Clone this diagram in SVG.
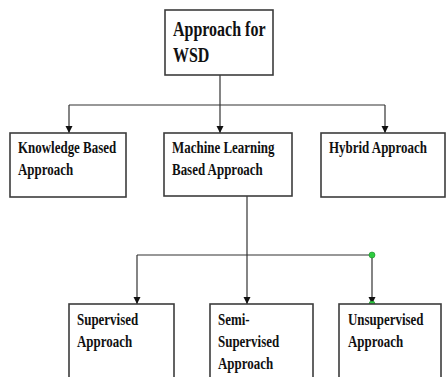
<svg xmlns="http://www.w3.org/2000/svg" width="448" height="377" viewBox="0 0 448 377">
<style>
.box{fill:#fff;stroke:#3c3c3c;stroke-width:1.6}
.t{font-family:"Liberation Serif","Times New Roman",serif;font-weight:bold;font-size:16.5px;fill:#111}
.tt{font-size:20.5px}
.c{fill:none;stroke:#333;stroke-width:1.2}
.dot{fill:#2ecc40;stroke:#1a8a26;stroke-width:0.6}
</style>
<defs>
<marker id="ah" viewBox="0 0 10 10" refX="10" refY="5" markerWidth="7" markerHeight="8" markerUnits="userSpaceOnUse" orient="auto">
<path d="M0,0 L10,5 L0,10 Z" fill="#111"/>
</marker>
</defs>
<rect width="448" height="377" fill="#fff"/>
<g id="connectors">
<path class="c" d="M220,75 V105"/>
<path class="c" d="M69,105 H385"/>
<path class="c" d="M69,105 V133" marker-end="url(#ah)"/>
<path class="c" d="M220,105 V133" marker-end="url(#ah)"/>
<path class="c" d="M385,105 V133" marker-end="url(#ah)"/>
<path class="c" d="M247,196 V255"/>
<path class="c" d="M137,255 H372"/>
<path class="c" d="M137,255 V304" marker-end="url(#ah)"/>
<path class="c" d="M247,255 V304" marker-end="url(#ah)"/>
<path class="c" d="M372,255 V304" marker-end="url(#ah)"/>
<circle class="dot" cx="372" cy="255" r="3"/>
<circle class="dot" cx="372" cy="304" r="3"/>
</g>
<g id="root">
<rect class="box" x="165" y="10" width="108" height="65"/>
<text class="t tt" transform="translate(173,36) scale(0.78,1)">Approach for</text>
<text class="t tt" transform="translate(173,62) scale(0.78,1)">WSD</text>
</g>
<g id="knowledge">
<rect class="box" x="10" y="133" width="116" height="64"/>
<text class="t" transform="translate(18,153) scale(0.785,1)">Knowledge Based</text>
<text class="t" transform="translate(18,175) scale(0.785,1)">Approach</text>
</g>
<g id="machine">
<rect class="box" x="164" y="133" width="128" height="63"/>
<text class="t" transform="translate(172,153) scale(0.785,1)">Machine Learning</text>
<text class="t" transform="translate(172,175) scale(0.785,1)">Based Approach</text>
</g>
<g id="hybrid">
<rect class="box" x="321" y="133" width="124" height="64"/>
<text class="t" transform="translate(329,153) scale(0.785,1)">Hybrid Approach</text>
</g>
<g id="supervised">
<rect class="box" x="69" y="304" width="105" height="90"/>
<text class="t" transform="translate(77,325) scale(0.785,1)">Supervised</text>
<text class="t" transform="translate(77,347) scale(0.785,1)">Approach</text>
</g>
<g id="semi">
<rect class="box" x="210" y="304" width="103" height="90"/>
<text class="t" transform="translate(218,325) scale(0.785,1)">Semi-</text>
<text class="t" transform="translate(218,347) scale(0.785,1)">Supervised</text>
<text class="t" transform="translate(218,369) scale(0.785,1)">Approach</text>
</g>
<g id="unsupervised">
<rect class="box" x="339" y="304" width="102" height="90"/>
<text class="t" transform="translate(348,325) scale(0.785,1)">Unsupervised</text>
<text class="t" transform="translate(348,347) scale(0.785,1)">Approach</text>
</g>
</svg>
